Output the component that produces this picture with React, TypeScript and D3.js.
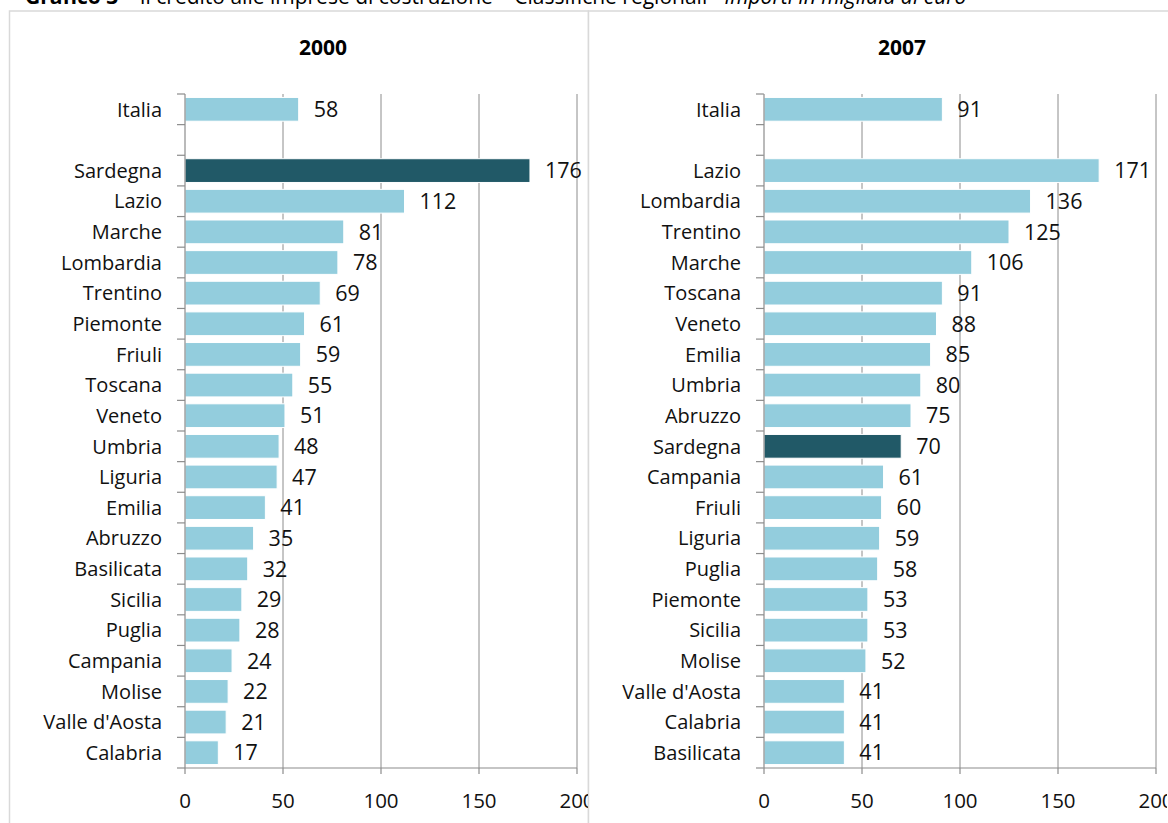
import React from "react";
import * as d3 from "d3";

const categories2000 = ["Italia", "", "Sardegna", "Lazio", "Marche", "Lombardia", "Trentino", "Piemonte", "Friuli", "Toscana", "Veneto", "Umbria", "Liguria", "Emilia", "Abruzzo", "Basilicata", "Sicilia", "Puglia", "Campania", "Molise", "Valle d'Aosta", "Calabria"];
const values2000 = [58, null, 176, 112, 81, 78, 69, 61, 59, 55, 51, 48, 47, 41, 35, 32, 29, 28, 24, 22, 21, 17];

const categories2007 = ["Italia", "", "Lazio", "Lombardia", "Trentino", "Marche", "Toscana", "Veneto", "Emilia", "Umbria", "Abruzzo", "Sardegna", "Campania", "Friuli", "Liguria", "Puglia", "Piemonte", "Sicilia", "Molise", "Valle d'Aosta", "Calabria", "Basilicata"];
const values2007 = [91, null, 171, 136, 125, 106, 91, 88, 85, 80, 75, 70, 61, 60, 59, 58, 53, 53, 52, 41, 41, 41];

const xTicks = [0, 50, 100, 150, 200];
const highlight = "Sardegna";

const FONT = "'Open Sans', sans-serif";
const LIGHT = "#93cddd";
const DARK = "#215967";
const GRID = "#8c8c8c";

type PanelProps = {
  title: string;
  cats: string[];
  vals: (number | null)[];
  offsetX: number;
  id: string;
};

function Panel({ title, cats, vals, offsetX, id }: PanelProps) {
  const x0 = offsetX + 176;
  const x = d3.scaleLinear().domain([0, 200]).range([x0, x0 + 392]);
  const keys = cats.map((c, i) => i);
  const y = d3.scaleBand<number>().domain(keys).range([94, 768]).paddingInner(0.225).paddingOuter(0.1125);
  const step = y.step();
  const boundaries = d3.range(cats.length + 1).map((i) => 94 + i * step);
  const yTop = 94;
  const yBot = 768;
  return (
    <g clipPath={`url(#${id})`}>
      <defs>
        <clipPath id={id}>
          <rect x={offsetX} y={0} width={579} height={823} />
        </clipPath>
      </defs>
      <text x={offsetX + 314} y={55} textAnchor="middle" fontFamily={FONT} fontWeight="bold" fontSize={21} fill="#000">
        {title}
      </text>
      {xTicks.slice(1).map((t) => (
        <line key={"g" + t} x1={x(t)} x2={x(t)} y1={yTop} y2={yBot} stroke={GRID} strokeWidth={1} />
      ))}
      {cats.map((c, i) => {
        const v = vals[i];
        if (v == null) return null;
        return (
          <g key={"b" + i}>
            <rect
              x={x(0)}
              y={y(i)!}
              width={x(v) - x(0)}
              height={y.bandwidth()}
              fill={c === highlight ? DARK : LIGHT}
              stroke="#ffffff"
              strokeWidth={1}
            />
            <text x={x(v) + 15} y={y(i)! + y.bandwidth() / 2} dy="0.36em" fontFamily={FONT} fontSize={21.5} fill="#111">
              {v}
            </text>
            <text x={x(0) - 23} y={y(i)! + y.bandwidth() / 2} dy="0.36em" textAnchor="end" fontFamily={FONT} fontSize={20} fill="#111">
              {c}
            </text>
          </g>
        );
      })}
      {/* y axis */}
      <line x1={x(0)} x2={x(0)} y1={yTop} y2={yBot} stroke={GRID} strokeWidth={1.2} />
      {boundaries.map((b, i) => (
        <line key={"yt" + i} x1={x(0) - 8} x2={x(0)} y1={b} y2={b} stroke={GRID} strokeWidth={1.2} />
      ))}
      {/* x axis */}
      <line x1={x(0)} x2={x(200)} y1={yBot} y2={yBot} stroke={GRID} strokeWidth={1.2} />
      {xTicks.map((t) => (
        <g key={"xt" + t}>
          <line x1={x(t)} x2={x(t)} y1={yBot} y2={yBot + 6} stroke={GRID} strokeWidth={1.2} />
          <text x={x(t)} y={808} textAnchor="middle" fontFamily={FONT} fontSize={20.5} fill="#111">
            {t}
          </text>
        </g>
      ))}
    </g>
  );
}

export default function App() {
  return (
    <svg width={1168} height={823} style={{ position: "absolute", left: 0, top: 0, background: "#fff" }}>
      <rect x={0} y={0} width={1168} height={823} fill="#fff" />
      <text x={25} y={4} fontFamily={FONT} fontSize={21} fill="#000">
        <tspan fontWeight="bold">Grafico 3</tspan>
        <tspan> – Il credito alle imprese di costruzione – Classifiche regionali - </tspan>
        <tspan fontStyle="italic">importi in migliaia di euro</tspan>
      </text>
      <rect x={9.5} y={11} width={579} height={830} fill="#fff" stroke="#d9d9d9" strokeWidth={1.5} />
      <rect x={588.5} y={11} width={600} height={830} fill="#fff" stroke="#d9d9d9" strokeWidth={1.5} />
      <Panel title="2000" cats={categories2000} vals={values2000} offsetX={9} id="clipA" />
      <Panel title="2007" cats={categories2007} vals={values2007} offsetX={588} id="clipB" />
    </svg>
  );
}
